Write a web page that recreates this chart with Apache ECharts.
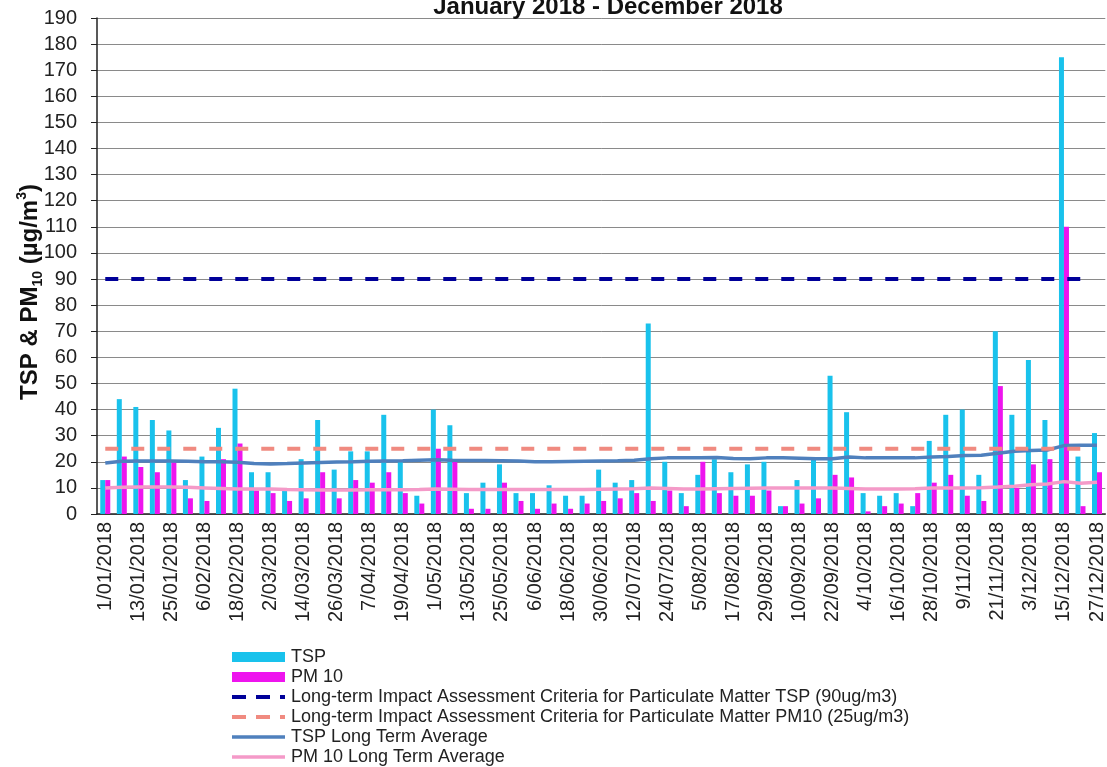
<!DOCTYPE html>
<html>
<head>
<meta charset="utf-8">
<script src="https://cdn.jsdelivr.net/npm/echarts/dist/echarts.min.js"></script>
<style>
  html, body { margin: 0; padding: 0; background: #fff; }
  #main { width: 1107px; height: 767px; }
</style>
</head>
<body>
<div id="main"></div>
<script>
// sampling days, every 6 days
var categories = [
  '1/01/2018', '7/01/2018', '13/01/2018', '19/01/2018', '25/01/2018', '31/01/2018',
  '6/02/2018', '12/02/2018', '18/02/2018', '24/02/2018', '2/03/2018', '8/03/2018',
  '14/03/2018', '20/03/2018', '26/03/2018', '1/04/2018', '7/04/2018', '13/04/2018',
  '19/04/2018', '25/04/2018', '1/05/2018', '7/05/2018', '13/05/2018', '19/05/2018',
  '25/05/2018', '31/05/2018', '6/06/2018', '12/06/2018', '18/06/2018', '24/06/2018',
  '30/06/2018', '6/07/2018', '12/07/2018', '18/07/2018', '24/07/2018', '30/07/2018',
  '5/08/2018', '11/08/2018', '17/08/2018', '23/08/2018', '29/08/2018', '4/09/2018',
  '10/09/2018', '16/09/2018', '22/09/2018', '28/09/2018', '4/10/2018', '10/10/2018',
  '16/10/2018', '22/10/2018', '28/10/2018', '3/11/2018', '9/11/2018', '15/11/2018',
  '21/11/2018', '27/11/2018', '3/12/2018', '9/12/2018', '15/12/2018', '21/12/2018',
  '27/12/2018'
];

var tsp = [
  13, 44, 41, 36, 32, 13, 22, 33, 48, 16,
  16, 9, 21, 36, 17, 24, 24, 38, 20, 7,
  40, 34, 8, 12, 19, 8, 8, 11, 7, 7,
  17, 12, 13, 73, 20, 8, 15, 21, 16, 19,
  20, 3, 13, 21, 53, 39, 8, 7, 8, 3,
  28, 38, 40, 15, 70, 38, 59, 36, 175, 22,
  31
];

var pm10 = [
  13, 22, 18, 16, 20, 6, 5, 21, 27, 9,
  8, 5, 6, 16, 6, 13, 12, 16, 8, 4,
  25, 20, 2, 2, 12, 5, 2, 4, 2, 4,
  5, 6, 8, 5, 9, 3, 20, 8, 7, 7,
  9, 3, 4, 6, 15, 14, 1, 3, 4, 8,
  12, 15, 7, 5, 49, 10, 19, 21, 110, 3,
  16
];

var tspAvg = [
  19.5, 20.2, 20.3, 20.3, 20.3, 20.2, 20, 20, 19.8, 19.3,
  19.2, 19.3, 19.5, 19.7, 19.9, 20, 20.2, 20.3, 20.4, 20.6,
  20.8, 20.6, 20.5, 20.5, 20.4, 20.3, 20, 20, 20.1, 20.2,
  20.3, 20.4, 20.6, 21.2, 21.5, 21.5, 21.5, 21.6, 21.3, 21.2,
  21.5, 21.5, 21.4, 21.2, 21.2, 21.8, 21.5, 21.5, 21.5, 21.5,
  21.8, 22, 22.4, 22.5, 23.3, 24, 24.3, 24.5, 26.2, 26.3,
  26.3
];

var pmAvg = [
  10, 10.2, 10.3, 10.3, 10.3, 10.2, 10, 9.8, 9.6, 9.6,
  9.6, 9.4, 9.3, 9.2, 9.2, 9.2, 9.3, 9.3, 9.3, 9.4,
  9.6, 9.5, 9.4, 9.4, 9.4, 9.4, 9.4, 9.4, 9.4, 9.4,
  9.5, 9.6, 9.7, 10, 9.8, 9.6, 9.6, 9.7, 9.8, 9.9,
  10, 10, 10, 10, 10, 9.8, 9.6, 9.6, 9.6, 9.7,
  10, 10, 10, 10.1, 10.3, 10.6, 11.2, 11.5, 12.4, 11.8,
  12.2
];

// criteria lines (run up to 21/12/2018)
var tspCriteria = 90;
var pmCriteria = 25;
var criteriaLast = 59;

var names = [
  'TSP',
  'PM 10',
  'Long-term Impact Assessment Criteria for Particulate Matter TSP (90ug/m3)',
  'Long-term Impact Assessment Criteria for Particulate Matter PM10 (25ug/m3)',
  'TSP Long Term Average',
  'PM 10 Long Term Average'
];

function criteria(v) {
  return categories.map(function (c, i) { return i <= criteriaLast ? v : '-'; });
}

var chart = echarts.init(document.getElementById('main'));

var hideDot = { opacity: 0 };
var font = 'Liberation Sans, Arial, sans-serif';

chart.setOption({
  backgroundColor: '#fff',
  animation: false,
  textStyle: { fontFamily: font },
  title: {
    text: 'January 2018 - December 2018',
    left: 603,
    top: -10,
    textAlign: 'center',
    textStyle: { fontSize: 24, fontWeight: 'bold', color: '#111', lineHeight: 24 }
  },
  graphic: [{
    type: 'text',
    x: 30,
    y: 292,
    rotation: Math.PI / 2,
    style: {
      text: '{a|TSP & PM}{sub|10}{a| (µg/m}{sup|3}{a|)}',
      align: 'center',
      verticalAlign: 'middle',
      rich: {
        a: { fontSize: 24, fontWeight: 'bold', fill: '#111', lineHeight: 30, fontFamily: font },
        sub: { fontSize: 14, fontWeight: 'bold', fill: '#111', verticalAlign: 'bottom', lineHeight: 30, fontFamily: font },
        sup: { fontSize: 14, fontWeight: 'bold', fill: '#111', verticalAlign: 'top', lineHeight: 30, fontFamily: font }
      }
    }
  }],
  legend: {
    orient: 'vertical',
    left: 230,
    top: 647,
    height: 130,
    padding: 0,
    itemWidth: 53,
    itemHeight: 10,
    itemGap: 0,
    data: [
      { name: names[0], icon: 'rect' },
      { name: names[1], icon: 'rect' },
      { name: names[2], itemStyle: hideDot, lineStyle: { width: 4, type: [14, 10] } },
      { name: names[3], itemStyle: hideDot, lineStyle: { width: 4, type: [14, 10] } },
      { name: names[4], itemStyle: hideDot, lineStyle: { width: 3.5 } },
      { name: names[5], itemStyle: hideDot, lineStyle: { width: 3.5 } }
    ],
    textStyle: { fontSize: 18, color: '#222', lineHeight: 20, padding: [0, 0, 0, 1] }
  },
  grid: { left: 97, top: 18, width: 1011, bottom: 253, containLabel: false },
  xAxis: {
    type: 'category',
    data: categories,
    boundaryGap: true,
    axisLine: { lineStyle: { color: '#222', width: 1.5 } },
    axisTick: { interval: 0, inside: true, length: 6, lineStyle: { color: '#222' } },
    axisLabel: { interval: 1, rotate: 90, fontSize: 20, color: '#222', margin: 8 }
  },
  yAxis: {
    type: 'value',
    min: 0,
    max: 190,
    interval: 10,
    axisLine: { show: true, lineStyle: { color: '#222', width: 1.5 } },
    axisTick: { show: true, length: 6, lineStyle: { color: '#222' } },
    axisLabel: { fontSize: 20, color: '#222', margin: 20 },
    splitLine: { lineStyle: { color: '#8a8a8a', width: 1 } }
  },
  series: [
    {
      name: names[0],
      type: 'bar',
      data: tsp,
      barWidth: 5,
      barGap: '0%',
      itemStyle: { color: '#19c2ec' }
    },
    {
      name: names[1],
      type: 'bar',
      data: pm10,
      barWidth: 5,
      itemStyle: { color: '#ee14ee' }
    },
    {
      name: names[2],
      type: 'line',
      data: criteria(tspCriteria),
      symbol: 'none',
      z: 5,
      lineStyle: { color: '#000099', width: 4, type: [13, 13] },
      itemStyle: { color: '#000099' }
    },
    {
      name: names[3],
      type: 'line',
      data: criteria(pmCriteria),
      symbol: 'none',
      z: 5,
      lineStyle: { color: '#f08a80', width: 4, type: [13, 13] },
      itemStyle: { color: '#f08a80' }
    },
    {
      name: names[4],
      type: 'line',
      data: tspAvg,
      symbol: 'none',
      z: 4,
      lineStyle: { color: '#4f80bd', width: 3.5 },
      itemStyle: { color: '#4f80bd' }
    },
    {
      name: names[5],
      type: 'line',
      data: pmAvg,
      symbol: 'none',
      z: 4,
      lineStyle: { color: '#f49ac8', width: 3.5 },
      itemStyle: { color: '#f49ac8' }
    }
  ]
});
</script>
</body>
</html>
